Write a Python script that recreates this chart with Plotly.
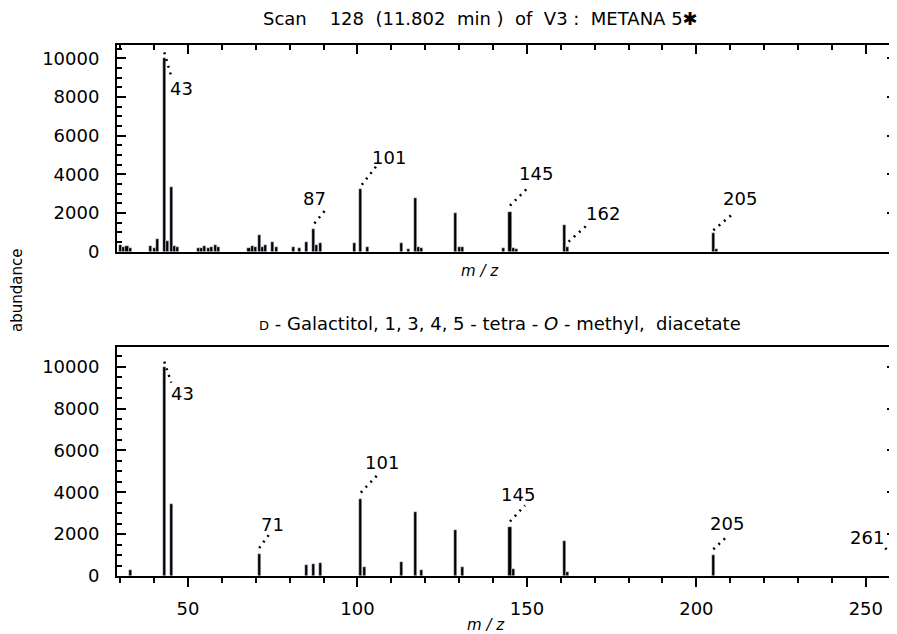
import plotly.graph_objects as go

# ---------------- data ----------------
# measured spectrum (top panel)
scan_mz = [30, 31, 32, 33, 39, 40, 41, 43, 44, 45, 46, 47, 53, 54, 55, 56, 57, 58, 59,
           68, 69, 70, 71, 72, 73, 75, 76, 81, 83, 85, 87, 88, 89, 99, 101, 103,
           113, 115, 117, 118, 119, 129, 130, 131, 143, 145, 146, 147, 161, 162, 205, 206]
scan_ab = [350, 250, 300, 200, 300, 200, 650, 10000, 570, 3360, 300, 250, 200, 200, 300, 200, 260, 350, 230,
           200, 300, 250, 860, 260, 330, 520, 230, 260, 200, 520, 1150, 350, 430, 430, 3250, 260,
           430, 150, 2760, 250, 200, 1985, 260, 230, 200, 2070, 200, 150, 1380, 260, 950, 150]
scan_labels = [43, 87, 101, 145, 162, 205]

# library spectrum (bottom panel)
lib_mz = [33, 43, 45, 71, 85, 87, 89, 101, 102, 113, 117, 119, 129, 131, 145, 146, 161, 162, 205, 261]
lib_ab = [300, 10000, 3450, 1050, 510, 560, 600, 3700, 450, 670, 3060, 300, 2220, 430, 2320, 350, 1670, 200, 990, 900]
lib_labels = [43, 71, 101, 145, 205, 261]

y_ticks = [0, 2000, 4000, 6000, 8000, 10000]
y_ticktext = ["0", "2000", "4000", "6000", "8000", "10000"]
x_ticks = [50, 100, 150, 200, 250]

title_top = "Scan    128  (11.802  min )  of  V3 :  METANA 5\u2731"
title_bottom = ("<span style='font-size:13px'>D</span> - Galactitol, 1, 3, 4, 5 - tetra - "
                "<i>O</i> - methyl,  diacetate")

# ---------------- layout geometry ----------------
W, H = 897, 634
OFF = 8  # the page places the figure 8 px from the window's top-left corner
# target positions in window pixels
PLOT_L, PLOT_R, PLOT_T, PLOT_B = 117, 896, 45, 576
ML, MR, MT, MB = PLOT_L - OFF, W - (PLOT_R - OFF), PLOT_T - OFF, H - (PLOT_B - OFF)
X_RANGE = [29.05, 258.9]
Y1_RANGE = [0, 10690]
Y2_RANGE = [0, 10940]
plot_w = W - ML - MR
plot_h = H - MT - MB
top_dom = [(PLOT_B - 251.7) / plot_h, 1.0]
bot_dom = [0.0, (PLOT_B - 347) / plot_h]

sx = plot_w / (X_RANGE[1] - X_RANGE[0])
sy1 = (top_dom[1] - top_dom[0]) * plot_h / (Y1_RANGE[1] - Y1_RANGE[0])
sy2 = (bot_dom[1] - bot_dom[0]) * plot_h / (Y2_RANGE[1] - Y2_RANGE[0])

FONT = "DejaVu Sans"
FS = 18

# label placement (pixel offsets from the peak top): label, leader start, leader end
top_place = {
    43: ((17, 30), (0, -6), (7, 18)),
    87: ((1, -31), (1, -6), (14, -22)),
    101: ((28, -31), (1, -4), (18, -26)),
    145: ((26, -38), (0, -6), (18, -24)),
    162: ((35, -33), (1, -5), (20, -22)),
    205: ((27, -35), (0, -3), (19, -19)),
}
bot_place = {
    43: ((18, 27), (0, -5), (7, 16)),
    71: ((13, -30), (0, -6), (11, -21)),
    101: ((21, -36), (0, -6), (17, -24)),
    145: ((8, -33), (0, -6), (15, -22)),
    205: ((14, -32), (0, -6), (14, -19)),
    261: ((-36, -20), (-18, -9), (-6, 0)),
}

fig = go.Figure()

fig.add_trace(go.Bar(x=scan_mz, y=scan_ab, width=0.9, marker_color="black",
                     xaxis="x", yaxis="y", showlegend=False, hoverinfo="x+y"))
fig.add_trace(go.Bar(x=lib_mz, y=lib_ab, width=0.9, marker_color="black",
                     xaxis="x2", yaxis="y2", showlegend=False, hoverinfo="x+y"))
# helper trace so the top-side tick axis of the upper panel is drawn
fig.add_trace(go.Scatter(x=[scan_mz[0]], y=[0], mode="markers", marker_opacity=0,
                         xaxis="x3", yaxis="y", showlegend=False, hoverinfo="skip"))

annotations = []


def add_labels(mzs, abs_, labels, place, xa, ya, sy):
    for m in labels:
        h = abs_[mzs.index(m)]
        (lx, ly), (s0x, s0y), (s1x, s1y) = place[m]
        xs = [m + s0x / sx, m + s1x / sx]
        ys = [h - s0y / sy, h - s1y / sy]
        fig.add_trace(go.Scatter(x=xs, y=ys, mode="lines", xaxis=xa, yaxis=ya,
                                 line=dict(color="black", width=2.5, dash="2px,5px"),
                                 showlegend=False, hoverinfo="skip"))
        ax_x = min(m, X_RANGE[1] - 0.5)
        shift = (m - ax_x) * sx
        annotations.append(dict(x=ax_x, y=h, xref=xa, yref=ya, text=str(m),
                                showarrow=False, xshift=lx + shift, yshift=-ly,
                                font=dict(family=FONT, size=FS, color="black")))


add_labels(scan_mz, scan_ab, scan_labels, top_place, "x", "y", sy1)
add_labels(lib_mz, lib_ab, lib_labels, bot_place, "x2", "y2", sy2)


def px_to_paper(px, py):
    return (px - PLOT_L) / plot_w, (PLOT_B - py) / plot_h


for txt, (px, py), size, angle in [
    (title_top, (480, 19), 18, 0),
    (title_bottom, (500, 323), 18, 0),
    ("<i>m / z</i>", (480, 271), 15, 0),
    ("<i>m / z</i>", (486, 625), 15, 0),
    ("abundance", (17, 291), 15, -90),
]:
    xp, yp = px_to_paper(px, py)
    annotations.append(dict(x=xp, y=yp, xref="paper", yref="paper", text=txt,
                            showarrow=False, textangle=angle, xanchor="center", yanchor="middle",
                            font=dict(family=FONT, size=size, color="black")))

yax_common = dict(showline=True, linewidth=2, linecolor="black", mirror="ticks",
                  ticks="inside", tickvals=y_ticks, ticktext=y_ticktext, ticklen=9,
                  tickwidth=2, tickcolor="black",
                  minor=dict(dtick=500, tick0=0, ticks="inside", ticklen=5, tickwidth=1.5,
                             tickcolor="black"),
                  tickfont=dict(family=FONT, size=FS, color="black"), ticklabelstandoff=12,
                  showgrid=False, zeroline=False, fixedrange=True, automargin=False)

fig.update_layout(
    width=W, height=H,
    margin=dict(l=ML, r=MR, t=MT, b=MB, autoexpand=False),
    paper_bgcolor="white", plot_bgcolor="white",
    bargap=0,
    font=dict(family=FONT, color="black"),
    xaxis=dict(domain=[0, 1], anchor="y", range=X_RANGE, showline=True, linewidth=2,
               linecolor="black", ticks="", showticklabels=False, showgrid=False,
               zeroline=False, automargin=False),
    xaxis3=dict(overlaying="x", anchor="y", side="top", range=X_RANGE, showline=True,
                linewidth=2, linecolor="black", ticks="inside", tick0=0, dtick=50,
                ticklen=9, tickwidth=2, tickcolor="black",
                minor=dict(dtick=10, tick0=0, ticks="inside", ticklen=5, tickwidth=1.5,
                           tickcolor="black"),
                showticklabels=False, showgrid=False, zeroline=False, automargin=False),
    yaxis=dict(domain=top_dom, anchor="x", range=Y1_RANGE, **yax_common),
    xaxis2=dict(domain=[0, 1], anchor="y2", range=X_RANGE, showline=True, linewidth=2,
                linecolor="black", mirror=True, ticks="outside", tickvals=x_ticks,
                ticklen=9, tickwidth=2, tickcolor="black",
                minor=dict(dtick=10, tick0=0, ticks="outside", ticklen=5, tickwidth=1.5,
                           tickcolor="black"),
                tickfont=dict(family=FONT, size=FS, color="black"), ticklabelstandoff=6,
                showgrid=False, zeroline=False, automargin=False),
    yaxis2=dict(domain=bot_dom, anchor="x2", range=Y2_RANGE, **yax_common),
    annotations=annotations,
)

fig.write_html("out.html")
